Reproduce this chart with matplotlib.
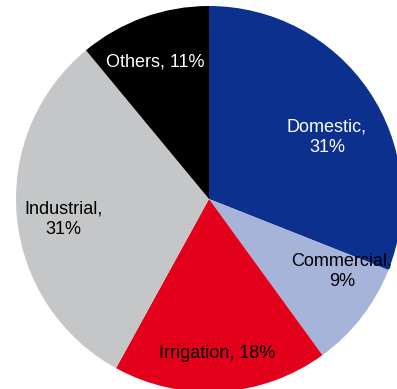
import matplotlib.pyplot as plt

categories = ["Domestic", "Commercial", "Irrigation", "Industrial", "Others"]
shares = [31, 9, 18, 31, 11]
colors = ["#0B308E", "#A7B4DA", "#E3001B", "#C5C6C8", "#000000"]
text_colors = ["white", "black", "black", "black", "white"]

plt.rcParams["font.family"] = ["Liberation Sans", "DejaVu Sans"]

W, H, DPI = 397, 389, 100
fig = plt.figure(figsize=(W / DPI, H / DPI), dpi=DPI)
ax = fig.add_axes([0, 0, 1, 1])

# pie centre and radius in pixels
cx, cy, r = 209, 199, 193

wedges, _ = ax.pie(shares, colors=colors, startangle=90, counterclock=False,
                   radius=1.0, center=(0, 0), frame=True,
                   wedgeprops=dict(linewidth=0))
ax.set_aspect("auto")
ax.set_xlim(-cx / r, (W - cx) / r)
ax.set_ylim(-(H - cy) / r, cy / r)
ax.axis("off")

# label anchor points (pixel offsets from the centre)
label_pos = {
    "Domestic": (118, 62),
    "Commercial": (133, -72),
    "Irrigation": (8, -155),
    "Industrial": (-146, -20),
    "Others": (-54, 137),
}
line_break = {"Domestic": True, "Commercial": True, "Irrigation": False,
              "Industrial": True, "Others": False}

for cat, val, tc in zip(categories, shares, text_colors):
    dx, dy = label_pos[cat]
    sep = "\n" if line_break[cat] else " "
    ax.text(dx / r, dy / r, f"{cat},{sep}{val}%", ha="center",
            va="center", color=tc, fontsize=13, linespacing=1.25)

fig.savefig("out.png", dpi=DPI)
